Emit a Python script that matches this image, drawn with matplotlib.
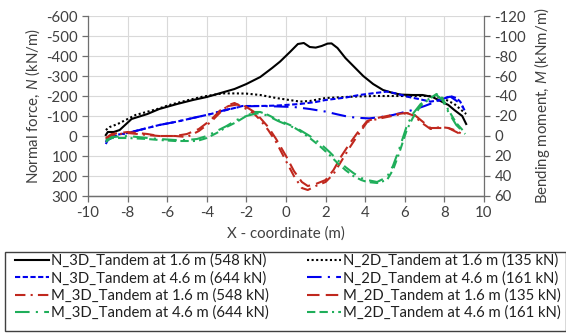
import matplotlib
matplotlib.use("Agg")
import matplotlib.pyplot as plt
from matplotlib.patches import Rectangle

plt.rcParams['font.family'] = ['Lato', 'DejaVu Sans']
plt.rcParams['mathtext.fontset'] = 'custom'
plt.rcParams['mathtext.it'] = 'Lato:italic'
plt.rcParams['mathtext.rm'] = 'Lato'
plt.rcParams['axes.unicode_minus'] = False

# ---------------- data ----------------
x_n3d16 = [-9.1, -9.0, -8.7, -8.4, -7.8, -7.0, -6.4, -5.5, -4.7, -4.0, -3.3, -2.6, -2.0, -1.3, -0.7,
           -0.3, 0.2, 0.6, 0.9, 1.2, 1.5, 1.8, 2.1, 2.3, 2.6, 3.0, 3.5, 3.9, 4.4, 4.9, 5.4, 5.8, 6.4,
           6.9, 7.4, 7.8, 8.2, 8.5, 8.9, 9.1]
n_3d16 = [-5, -20, -20, -30, -85, -110, -135, -160, -180, -195, -215, -235, -260, -295, -340,
          -372, -420, -460, -465, -445, -442, -450, -462, -463, -440, -390, -340, -300, -260, -230,
          -215, -207, -205, -205, -195, -175, -155, -130, -100, -60]

x_n2d16 = [-9.1, -8.9, -8.5, -7.6, -6.5, -5.9, -5.0, -4.2, -3.2, -2.5, -2.0, -1.3, -0.5, 0.7, 1.2,
           2.0, 3.0, 3.7, 4.5, 5.8, 6.5, 7.3, 7.8, 8.1, 8.5, 8.95, 9.1]
n_2d16 = [-30, -45, -60, -105, -135, -155, -178, -197, -213, -213, -212, -205, -190, -172, -175,
          -190, -195, -198, -200, -200, -200, -200, -192, -180, -160, -122, -110]

x_n3d46 = [-9.1, -9.0, -8.6, -8.0, -7.0, -6.4, -5.5, -4.7, -3.8, -3.0, -2.2, -1.3, -0.5, 0.7, 1.5,
           2.0, 3.0, 3.7, 4.5, 5.1, 5.6, 6.1, 6.7, 7.3, 7.8, 8.3, 8.6, 8.8, 9.05]
n_3d46 = [30, 10, -5, -15, -40, -55, -72, -90, -110, -130, -150, -150, -152, -160, -170,
          -180, -192, -205, -215, -222, -212, -197, -185, -172, -180, -200, -190, -172, -122]

x_n2d46 = [-9.1, -9.0, -8.6, -8.0, -7.0, -6.4, -5.5, -4.7, -3.8, -3.0, -2.2, -1.3, -0.5, 0.4, 1.2,
           2.0, 2.6, 3.2, 3.8, 4.2, 4.8, 5.4, 6.0, 6.4, 7.0, 7.4, 7.9, 8.3, 8.7, 9.05]
n_2d46 = [40, 20, 0, -15, -40, -55, -72, -90, -110, -132, -148, -150, -148, -145, -135,
          -122, -108, -95, -90, -88, -95, -105, -120, -130, -150, -165, -185, -197, -170, -130]

x_m16 = [-9.1, -8.8, -8.0, -7.0, -6.4, -5.6, -5.0, -4.4, -3.8, -3.3, -2.9, -2.6, -2.3, -2.0, -1.6,
         -1.3, -0.9, -0.5, 0.0, 0.4, 0.8, 1.1, 1.5, 2.0, 2.4, 2.8, 3.2, 3.6, 4.1, 4.6, 5.1, 5.6,
         6.1, 6.5, 6.8, 7.3, 7.8, 8.2, 8.5, 9.0]
m_3d16 = [3, -1, -3, -1, 0, 0, 1, -5, -14, -24, -31, -33, -30, -27, -22,
          -16, -6, 6, 25, 40, 52, 54, 50, 46, 38, 25, 12, 0, -14, -17, -19, -21,
          -23, -20, -14, -7, -9, -8, -6, -1]
m_2d16 = [2, -2, -4, -2, 0, 0, -2, -7, -16, -26, -30, -31, -32, -29, -24,
          -18, -9, 3, 20, 35, 46, 50, 48, 44, 34, 20, 8, -3, -15, -18, -20, -22,
          -23, -21, -16, -8, -8, -8, -5, 0]

x_m46 = [-9.1, -8.8, -8.0, -7.0, -6.4, -5.6, -5.0, -4.5, -4.0, -3.5, -3.0, -2.5, -2.0, -1.6, -1.3,
         -0.9, -0.4, 0.2, 0.7, 1.2, 1.7, 2.2, 2.6, 3.0, 3.4, 3.8, 4.1, 4.6, 5.1, 5.4, 5.7, 6.1,
         6.4, 6.8, 7.3, 7.6, 7.9, 8.2, 8.6, 9.05]
m_3d46 = [6, 1, 0, 2, 3, 4, 4, 3, 0, -5, -10, -16, -20, -22, -23,
          -20, -15, -10, -6, 0, 7, 16, 24, 31, 37, 42, 44, 46, 41, 30, 14, -10,
          -22, -32, -38, -41, -36, -24, -11, -2]
m_2d46 = [4, 2, 2, 3, 4, 5, 5, 5, 2, -3, -9, -14, -20, -24, -24,
          -21, -16, -11, -5, 2, 10, 19, 27, 34, 40, 44, 46, 47, 44, 34, 18, -6,
          -18, -30, -38, -42, -38, -26, -13, -3]

labels = ["N_3D_Tandem at 1.6 m (548 kN)", "N_2D_Tandem at 1.6 m (135 kN)",
          "N_3D_Tandem at 4.6 m (644 kN)", "N_2D_Tandem at 4.6 m (161 kN)",
          "M_3D_Tandem at 1.6 m (548 kN)", "M_2D_Tandem at 1.6 m (135 kN)",
          "M_3D_Tandem at 4.6 m (644 kN)", "M_2D_Tandem at 4.6 m (161 kN)"]

x_ticks = list(range(-10, 11, 2))
n_ticks = list(range(-600, 301, 100))
m_ticks = list(range(-120, 61, 20))

# ---------------- figure ----------------
W, H = 566, 333
fig = plt.figure(figsize=(W / 100, H / 100), dpi=100)
L, R, T, B = 88, 484, 16, 196
ax = fig.add_axes([L / W, 1 - B / H, (R - L) / W, (B - T) / H])
ax2 = ax.twinx()

blue = '#0000ee'
red = '#c0281e'
green = '#1fae5a'
lw = 1.5

h1, = ax.plot(x_n3d16, n_3d16, color='black', lw=lw, ls='-')
h2, = ax.plot(x_n2d16, n_2d16, color='black', lw=lw, ls=(0, (1, 1.2)))
h3, = ax.plot(x_n3d46, n_3d46, color=blue, lw=lw, ls=(0, (2.5, 1.2)))
h4, = ax.plot(x_n2d46, n_2d46, color=blue, lw=lw, ls=(0, (7, 3, 1, 3)))
h5, = ax2.plot(x_m16, m_3d16, color=red, lw=lw, ls=(0, (5, 2.5, 1, 2.5)))
h6, = ax2.plot(x_m16, m_2d16, color=red, lw=lw, ls=(0, (6, 3)))
h7, = ax2.plot(x_m46, m_3d46, color=green, lw=lw, ls=(0, (7, 3, 1, 3)))
h8, = ax2.plot(x_m46, m_2d46, color=green, lw=lw, ls=(0, (4, 2, 4, 2, 1, 2)))

ax.set_xlim(-10, 10)
ax.set_ylim(300, -600)
ax2.set_ylim(60, -120)
ax.set_xticks(x_ticks)
ax.set_yticks(n_ticks)
ax2.set_yticks(m_ticks)

ax.grid(True, color='#d9d9d9', lw=0.8)
ax.set_axisbelow(True)

tc = '#404040'
for a in (ax, ax2):
    a.spines['top'].set_visible(False)
    for s in ('left', 'right', 'bottom'):
        a.spines[s].set_color('#6f6f6f')
        a.spines[s].set_linewidth(0.9)
    a.tick_params(labelsize=10.8, colors='#6f6f6f', labelcolor=tc, length=4, width=0.9)
ax2.spines['left'].set_visible(False)
ax.spines['right'].set_visible(False)

ax.set_xlabel('X - coordinate (m)', fontsize=10.8, color=tc, labelpad=4)
ax.set_ylabel('Normal force, $\\it{N}$ (kN/m)', fontsize=10.8, color=tc, labelpad=3)
ax2.set_ylabel('Bending moment, $\\it{M}$ (kNm/m)', fontsize=10.8, color=tc, labelpad=4)

# legend frame drawn as a rectangle in figure pixels
fig.patches.append(Rectangle((5 / W, 1 - 331 / H), 561 / W, 79 / H, transform=fig.transFigure,
                             facecolor='none', edgecolor='#404040', lw=1.0))

handles = [h1, h2, h3, h4, h5, h6, h7, h8]
# reference legend reads row by row; matplotlib fills columns, so reorder
order = [0, 2, 4, 6, 1, 3, 5, 7]
leg = fig.legend([handles[i] for i in order], [labels[i] for i in order], ncol=2,
                 loc='upper left', bbox_to_anchor=(14 / W, 1 - 253 / H),
                 fontsize=10.7, frameon=False, handlelength=2.3,
                 handletextpad=0.12, borderpad=0.05, labelspacing=0.2, columnspacing=2.6,
                 borderaxespad=0)
for t in leg.get_texts():
    t.set_color('#202020')

fig.savefig('out.png', dpi=100)
